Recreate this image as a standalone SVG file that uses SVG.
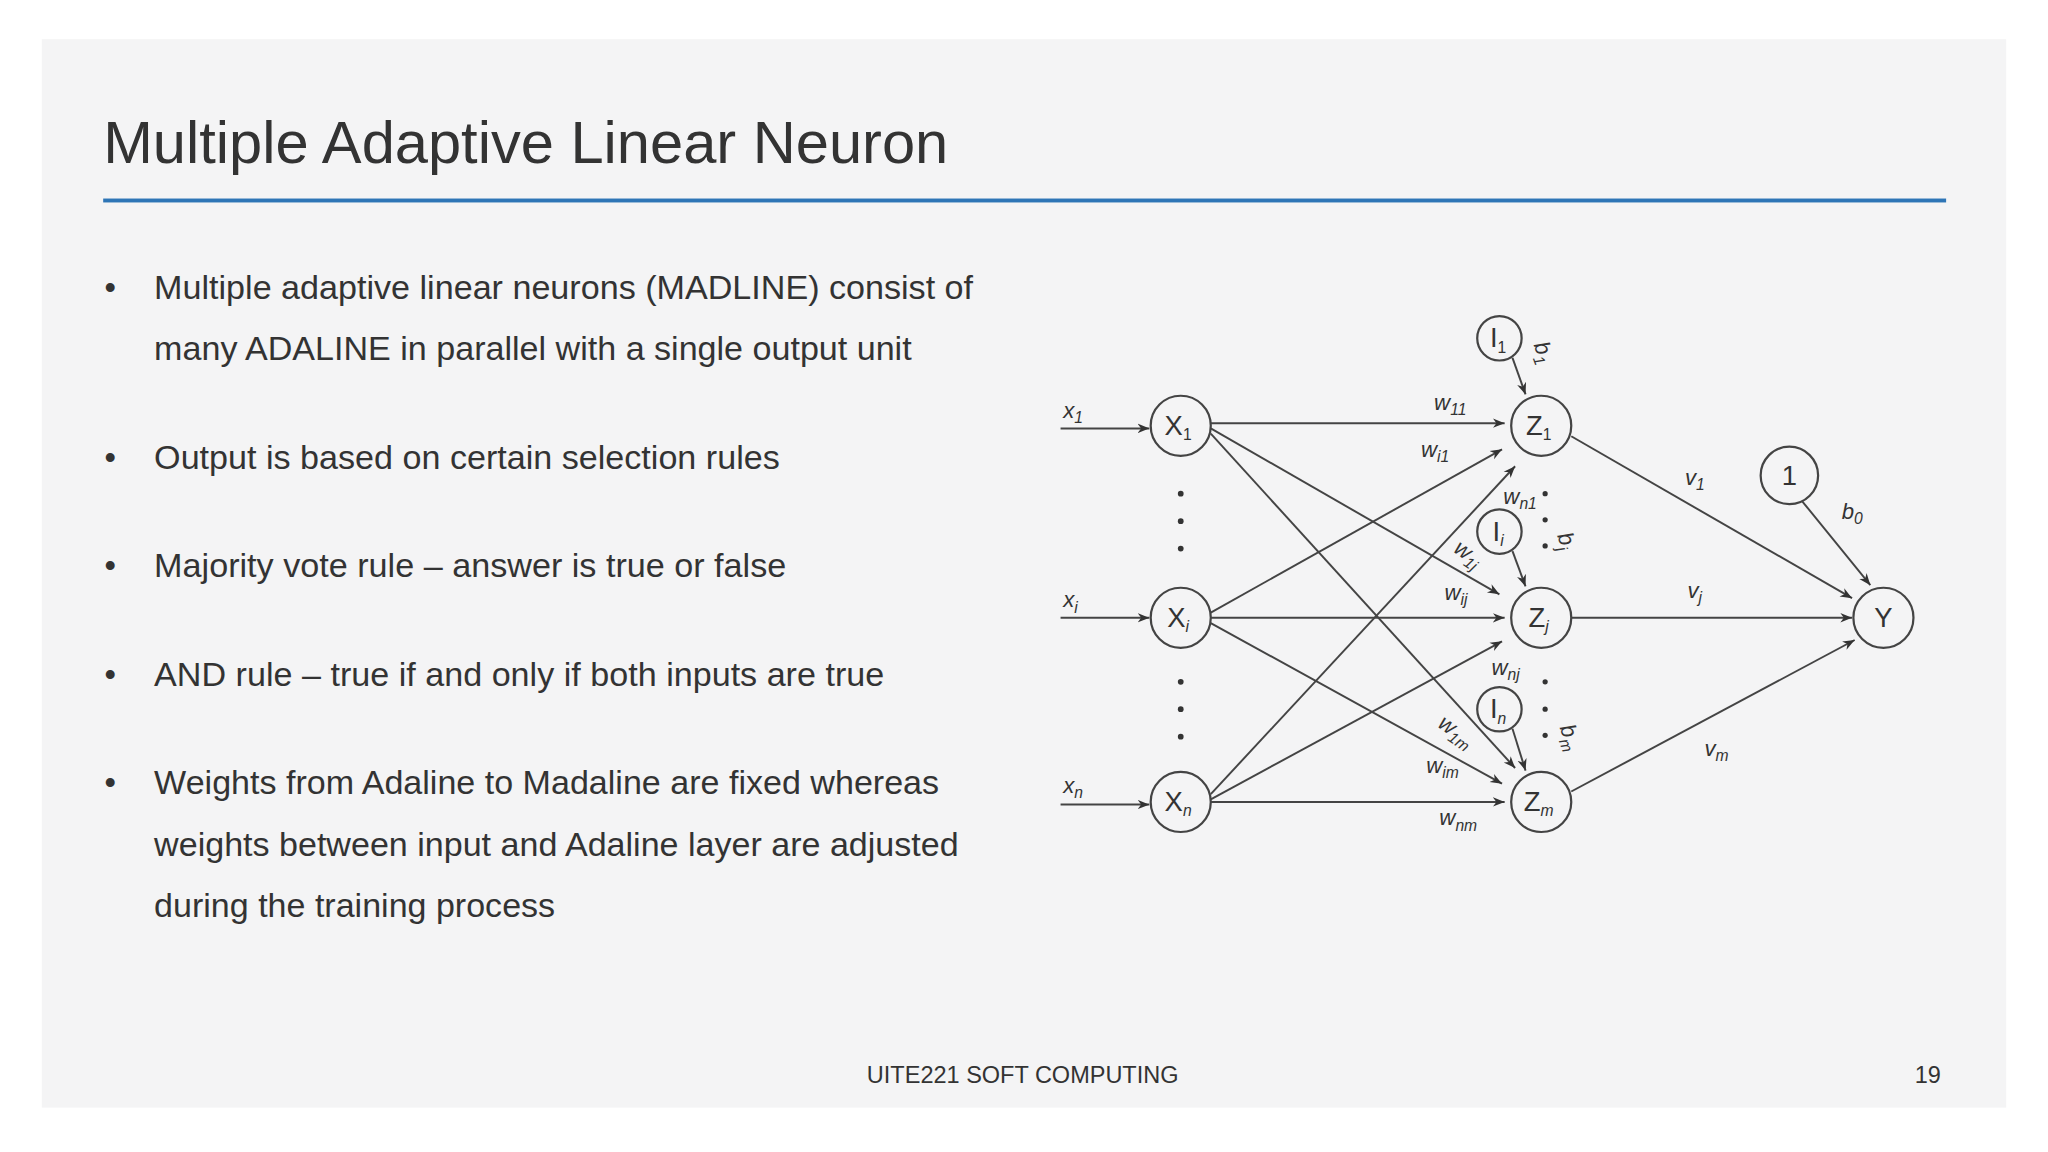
<svg xmlns="http://www.w3.org/2000/svg" width="2048" height="1152" viewBox="0 0 2048 1152">
<style>
.t{font-family:"Liberation Sans",Arial,sans-serif;fill:#333}
.n{fill:none;stroke:#444;stroke-width:1.7}
.l{stroke:#444;stroke-width:1.5;fill:none}
.nt{font-family:"Liberation Sans",Arial,sans-serif;font-size:21px;fill:#333;text-anchor:middle}
.sub{font-size:12px}
.w{font-family:"Liberation Sans",Arial,sans-serif;font-size:17px;font-style:italic;fill:#333}
.d{fill:#333}
</style>
<defs>
<marker id="a" viewBox="0 0 10 10" refX="10" refY="5" markerWidth="9" markerHeight="9" markerUnits="userSpaceOnUse" orient="auto"><path d="M0,1 L10,5 L0,9 L3,5 Z" fill="#333"/></marker>
</defs>
<rect width="2048" height="1152" fill="#fff"/>
<g transform="scale(1.30612)">
<rect x="32" y="30" width="1504" height="818" fill="#f4f4f5"/>
<text class="t" x="79" y="125" font-size="45" textLength="647" lengthAdjust="spacingAndGlyphs">Multiple Adaptive Linear Neuron</text>
<rect x="79" y="152" width="1411" height="3" fill="#2e75b6"/>
<g class="t" font-size="25">
<text x="80" y="229">•</text><text x="118" y="229" textLength="627" lengthAdjust="spacingAndGlyphs">Multiple adaptive linear neurons (MADLINE) consist of</text>
<text x="118" y="276" textLength="580" lengthAdjust="spacingAndGlyphs">many ADALINE in parallel with a single output unit</text>
<text x="80" y="359">•</text><text x="118" y="359" textLength="479" lengthAdjust="spacingAndGlyphs">Output is based on certain selection rules</text>
<text x="80" y="442">•</text><text x="118" y="442" textLength="484" lengthAdjust="spacingAndGlyphs">Majority vote rule – answer is true or false</text>
<text x="80" y="525">•</text><text x="118" y="525" textLength="559" lengthAdjust="spacingAndGlyphs">AND rule – true if and only if both inputs are true</text>
<text x="80" y="608">•</text><text x="118" y="608" textLength="601" lengthAdjust="spacingAndGlyphs">Weights from Adaline to Madaline are fixed whereas</text>
<text x="118" y="655" textLength="616" lengthAdjust="spacingAndGlyphs">weights between input and Adaline layer are adjusted</text>
<text x="118" y="702" textLength="307" lengthAdjust="spacingAndGlyphs">during the training process</text>
</g>
<text class="t" x="783" y="829" font-size="18" text-anchor="middle" font-family="'Open Sans',sans-serif">UITE221 SOFT COMPUTING</text>
<text class="t" x="1476" y="829" font-size="18" text-anchor="middle">19</text>

<g id="connectors">
<line class="l" x1="812" y1="328" x2="880" y2="328" marker-end="url(#a)"/>
<line class="l" x1="812" y1="473" x2="880" y2="473" marker-end="url(#a)"/>
<line class="l" x1="812" y1="616" x2="880" y2="616" marker-end="url(#a)"/>
<line class="l" x1="927" y1="324" x2="1152" y2="324" marker-end="url(#a)"/>
<line class="l" x1="927" y1="328" x2="1148" y2="455" marker-end="url(#a)"/>
<line class="l" x1="927" y1="332" x2="1160" y2="588" marker-end="url(#a)"/>
<line class="l" x1="927" y1="469" x2="1150" y2="344" marker-end="url(#a)"/>
<line class="l" x1="927" y1="473" x2="1152" y2="473" marker-end="url(#a)"/>
<line class="l" x1="927" y1="477" x2="1150" y2="600" marker-end="url(#a)"/>
<line class="l" x1="927" y1="608" x2="1160" y2="357" marker-end="url(#a)"/>
<line class="l" x1="927" y1="612" x2="1150" y2="491" marker-end="url(#a)"/>
<line class="l" x1="927" y1="614" x2="1152" y2="614" marker-end="url(#a)"/>
<line class="l" x1="1158" y1="274" x2="1168" y2="302" marker-end="url(#a)"/>
<line class="l" x1="1158" y1="422" x2="1168" y2="449" marker-end="url(#a)"/>
<line class="l" x1="1158" y1="558" x2="1168" y2="590" marker-end="url(#a)"/>
<line class="l" x1="1203" y1="334" x2="1418" y2="458" marker-end="url(#a)"/>
<line class="l" x1="1203" y1="473" x2="1418" y2="473" marker-end="url(#a)"/>
<line class="l" x1="1203" y1="606" x2="1420" y2="490" marker-end="url(#a)"/>
<line class="l" x1="1380" y1="384" x2="1432" y2="448" marker-end="url(#a)"/>
</g>

<g id="X1"><circle class="n" cx="904" cy="326" r="23"/><text class="nt" x="902" y="333">X<tspan class="sub" dy="4">1</tspan></text></g>
<g id="Xi"><circle class="n" cx="904" cy="473" r="23"/><text class="nt" x="902" y="480">X<tspan class="sub" dy="4" font-style="italic">i</tspan></text></g>
<g id="Xn"><circle class="n" cx="904" cy="614" r="23"/><text class="nt" x="902" y="621">X<tspan class="sub" dy="4" font-style="italic">n</tspan></text></g>
<g id="Z1"><circle class="n" cx="1180" cy="326" r="23"/><text class="nt" x="1178" y="333">Z<tspan class="sub" dy="4">1</tspan></text></g>
<g id="Zj"><circle class="n" cx="1180" cy="473" r="23"/><text class="nt" x="1178" y="480">Z<tspan class="sub" dy="4" font-style="italic">j</tspan></text></g>
<g id="Zm"><circle class="n" cx="1180" cy="614" r="23"/><text class="nt" x="1178" y="621">Z<tspan class="sub" dy="4" font-style="italic">m</tspan></text></g>
<g id="Y"><circle class="n" cx="1442" cy="473" r="23"/><text class="nt" x="1442" y="480">Y</text></g>
<g id="one"><circle class="n" cx="1370" cy="364" r="22"/><text class="nt" x="1370" y="371">1</text></g>
<g id="I1"><circle class="n" cx="1148" cy="259" r="17"/><text class="nt" x="1147" y="266" font-size="19">I<tspan class="sub" dy="4">1</tspan></text></g>
<g id="Ii"><circle class="n" cx="1148" cy="407" r="17"/><text class="nt" x="1147" y="414" font-size="19">I<tspan class="sub" dy="4" font-style="italic">i</tspan></text></g>
<g id="In"><circle class="n" cx="1148" cy="543" r="17"/><text class="nt" x="1147" y="550" font-size="19">I<tspan class="sub" dy="4" font-style="italic">n</tspan></text></g>

<g class="w">
<text x="814" y="320">x<tspan class="sub" dy="4">1</tspan></text>
<text x="814" y="465">x<tspan class="sub" dy="4">i</tspan></text>
<text x="814" y="607">x<tspan class="sub" dy="4">n</tspan></text>
<text x="1098" y="314">w<tspan class="sub" dy="4">11</tspan></text>
<text x="1088" y="350">w<tspan class="sub" dy="4">i1</tspan></text>
<text x="1151" y="386">w<tspan class="sub" dy="4">n1</tspan></text>
<text transform="translate(1112,422) rotate(35)">w<tspan class="sub" dy="4">1j</tspan></text>
<text x="1106" y="459">w<tspan class="sub" dy="4">ij</tspan></text>
<text x="1142" y="517">w<tspan class="sub" dy="4">nj</tspan></text>
<text transform="translate(1100,556) rotate(35)">w<tspan class="sub" dy="4">1m</tspan></text>
<text x="1092" y="592">w<tspan class="sub" dy="4">im</tspan></text>
<text x="1102" y="632">w<tspan class="sub" dy="4">nm</tspan></text>
<text transform="translate(1174,264) rotate(70)">b<tspan class="sub" dy="4">1</tspan></text>
<text transform="translate(1192,410) rotate(70)">b<tspan class="sub" dy="4">j</tspan></text>
<text transform="translate(1194,557) rotate(70)">b<tspan class="sub" dy="4">m</tspan></text>
<text x="1410" y="397">b<tspan class="sub" dy="4">0</tspan></text>
<text x="1290" y="371">v<tspan class="sub" dy="4">1</tspan></text>
<text x="1292" y="458">v<tspan class="sub" dy="4">j</tspan></text>
<text x="1305" y="579">v<tspan class="sub" dy="4">m</tspan></text>
</g>
<g class="d">
<circle cx="904" cy="378" r="2.2"/><circle cx="904" cy="399" r="2.2"/><circle cx="904" cy="420" r="2.2"/>
<circle cx="904" cy="522" r="2.2"/><circle cx="904" cy="543" r="2.2"/><circle cx="904" cy="564" r="2.2"/>
<circle cx="1183" cy="378" r="2"/><circle cx="1183" cy="398" r="2"/><circle cx="1183" cy="418" r="2"/>
<circle cx="1183" cy="522" r="2"/><circle cx="1183" cy="543" r="2"/><circle cx="1183" cy="563" r="2"/>
</g>
</g>
</svg>
